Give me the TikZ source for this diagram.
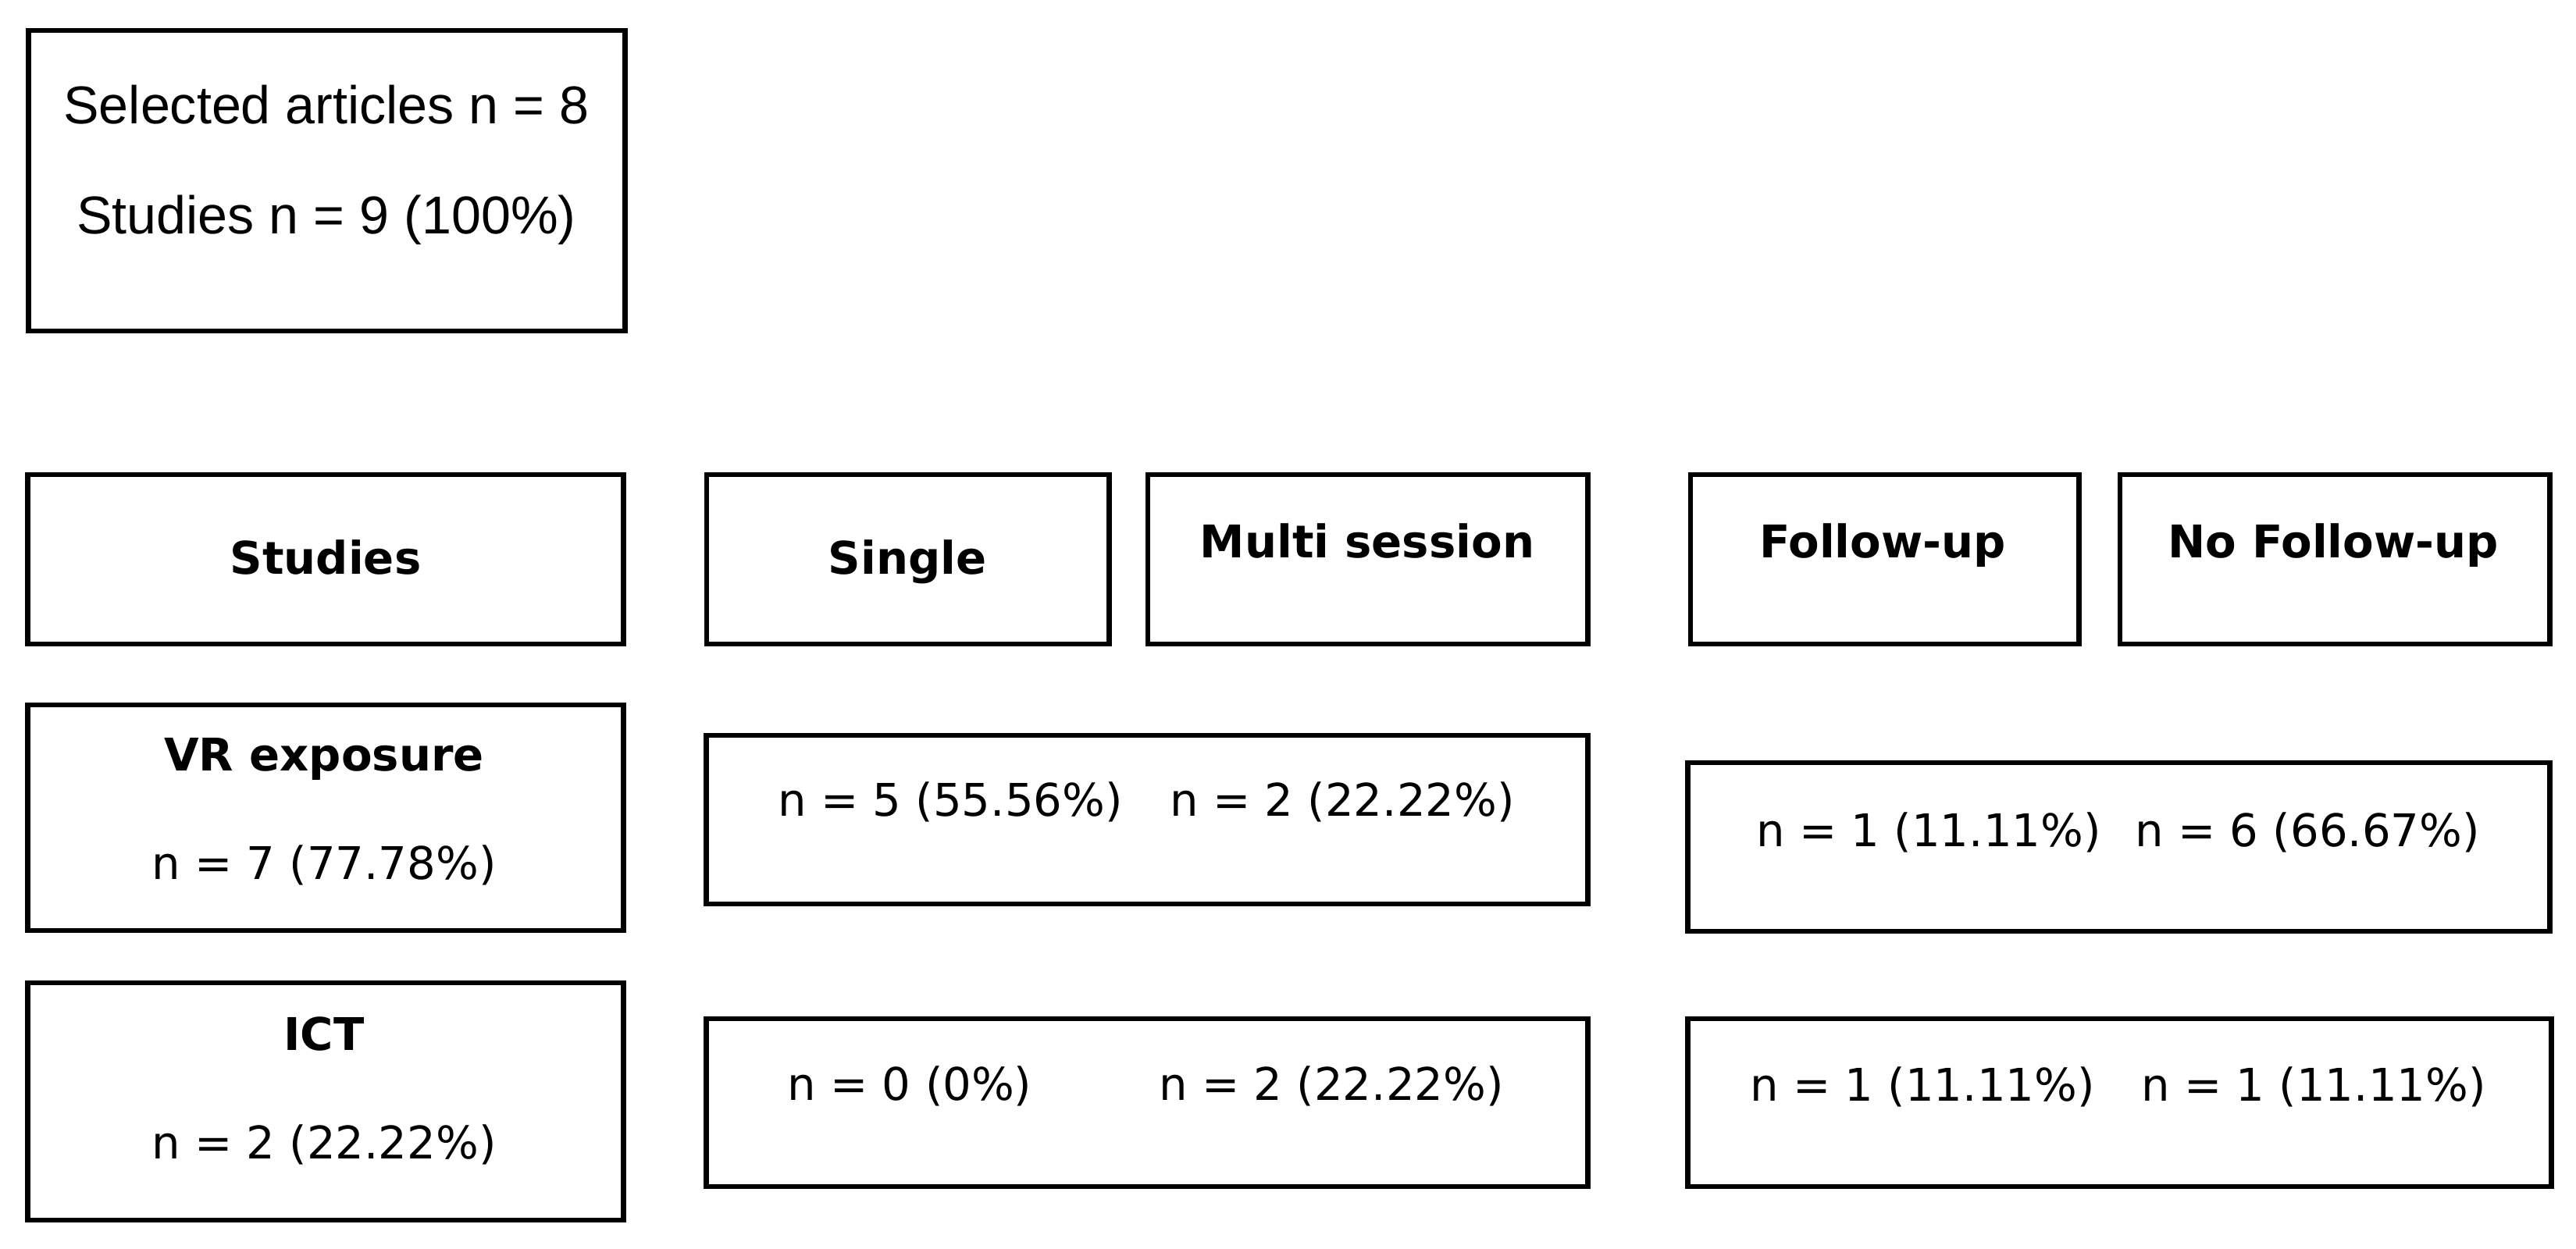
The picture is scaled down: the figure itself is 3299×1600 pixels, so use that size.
\documentclass[tikz,border=0pt]{standalone}
\usepackage{fontspec}
\setmainfont{DejaVu Sans}
\newfontfamily\arialfont{Liberation Sans}
\begin{document}
\begin{tikzpicture}[x=0.01cm,y=-0.01cm,
  box/.style={draw=black, line width=1.9pt, rectangle, inner sep=0pt, outer sep=0pt},
  txt/.style={anchor=base, inner sep=0pt, font=\fontsize{16.4pt}{19pt}\selectfont},
  hdr/.style={anchor=base, inner sep=0pt, font=\fontsize{16.4pt}{19pt}\selectfont\bfseries},
  atxt/.style={anchor=base, inner sep=0pt, font=\fontsize{19.4pt}{22pt}\selectfont\arialfont}]
\useasboundingbox[fill=white] (0,0) rectangle (3299,1600);
% boxes
\node[box, minimum width=7.63cm, minimum height=3.85cm] (sel) at (418.5,231.5) {};
\node[box, minimum width=7.62cm, minimum height=2.17cm] (stud) at (417,716.5) {};
\node[box, minimum width=5.15cm, minimum height=2.17cm] (single) at (1162.5,716.5) {};
\node[box, minimum width=5.63cm, minimum height=2.17cm] (multi) at (1751.5,716.5) {};
\node[box, minimum width=4.97cm, minimum height=2.17cm] (fu) at (2413.5,716.5) {};
\node[box, minimum width=5.50cm, minimum height=2.17cm] (nfu) at (2990,716.5) {};
\node[box, minimum width=7.62cm, minimum height=2.89cm] (vr) at (417,1047.5) {};
\node[box, minimum width=11.28cm, minimum height=2.16cm] (vrs) at (1469,1050) {};
\node[box, minimum width=11.03cm, minimum height=2.16cm] (vrf) at (2713.5,1085) {};
\node[box, minimum width=7.62cm, minimum height=3.04cm] (ict) at (417,1411) {};
\node[box, minimum width=11.28cm, minimum height=2.15cm] (icts) at (1469,1412.5) {};
\node[box, minimum width=11.05cm, minimum height=2.15cm] (ictf) at (2714.5,1412.5) {};
% texts
\node[atxt] (selA) at (418,159) {Selected articles n = 8};
\node[atxt] (selB) at (418,299) {Studies n = 9 (100\%)};
\node[hdr] (studT) at (417,735) {Studies};
\node[hdr] (singleT) at (1162,735) {Single};
\node[hdr] (multiT) at (1751,714) {Multi session};
\node[hdr] (fuT) at (2411,714) {Follow-up};
\node[hdr] (nfuT) at (2988,714) {No Follow-up};
\node[hdr] (vrT) at (415,987) {VR exposure};
\node[txt] (vrN) at (415,1126) {n = 7 (77.78\%)};
\node[hdr] (ictT) at (415,1345) {ICT};
\node[txt] (ictN) at (415,1484) {n = 2 (22.22\%)};
\node[txt] (vrs1) at (1217,1045) {n = 5 (55.56\%)};
\node[txt] (vrs2) at (1719,1045) {n = 2 (22.22\%)};
\node[txt] (icts1) at (1165,1409) {n = 0 (0\%)};
\node[txt] (icts2) at (1705,1409) {n = 2 (22.22\%)};
\node[txt] (vrf1) at (2470,1084) {n = 1 (11.11\%)};
\node[txt] (vrf2) at (2955,1084) {n = 6 (66.67\%)};
\node[txt] (ictf1) at (2462,1410) {n = 1 (11.11\%)};
\node[txt] (ictf2) at (2963,1410) {n = 1 (11.11\%)};
\end{tikzpicture}
\end{document}
